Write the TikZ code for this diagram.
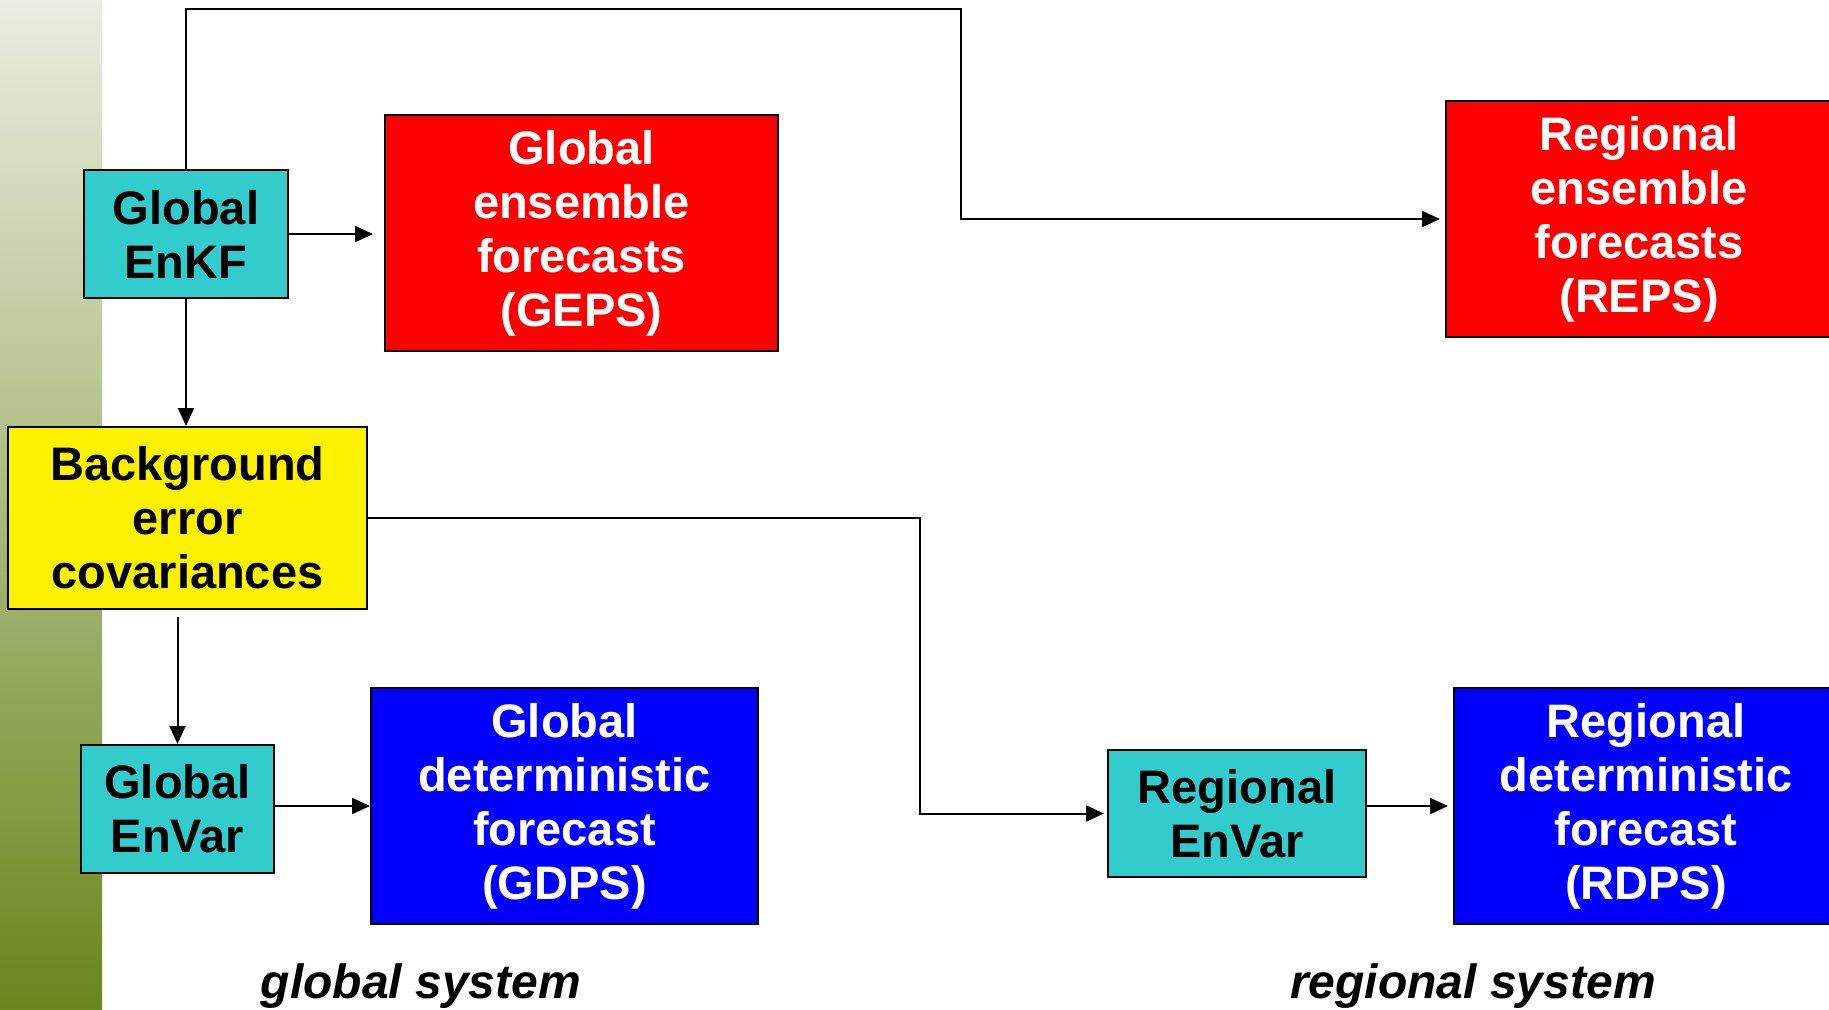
\documentclass[tikz,border=0pt]{standalone}
\usepackage{fontspec}
\setmainfont{Liberation Sans}
\usepackage{xcolor}
\usetikzlibrary{positioning,calc,arrows.meta}
\definecolor{boxcyan}{RGB}{51,204,204}
\definecolor{stripTop}{RGB}{234,237,224}
\definecolor{stripMid}{RGB}{172,188,124}
\definecolor{stripBot}{RGB}{106,134,28}
\tikzset{
    box/.style={draw=black, line width=1pt, inner sep=0pt, align=center,
        font=\bfseries\fontsize{23.5}{27}\selectfont},
    conn/.style={line width=1pt, -{Triangle[length=9pt,width=8pt]}},
    syslabel/.style={anchor=base, font=\bfseries\itshape\fontsize{24}{28}\selectfont},
}

\begin{document}
\begin{tikzpicture}[x=0.5pt,y=-0.5pt]
    \useasboundingbox (0,0) rectangle (1829,1009);
    \shade[top color=stripTop, middle color=stripMid, bottom color=stripBot] (0,0) rectangle (102,1009); % side strip

    \node[box, fill=boxcyan, minimum width=102pt, minimum height=64pt] (enkf) at (186,234) {Global\\EnKF};
    \node[box, fill=red, text=white, minimum width=196.5pt, minimum height=118pt] (geps) at (581.5,233) {Global\\ensemble\\forecasts\\(GEPS)};
    \node[box, fill=red, text=white, minimum width=193pt, minimum height=118pt] (reps) at (1639,219) {Regional\\ensemble\\forecasts\\(REPS)};
    \node[box, fill=yellow, minimum width=179.5pt, minimum height=91pt] (bec) at (187.5,518) {Background\\error\\covariances};
    \node[box, fill=boxcyan, minimum width=96.5pt, minimum height=64pt] (glbenvar) at (177.5,809) {Global\\EnVar};
    \node[box, fill=blue, text=white, minimum width=193.5pt, minimum height=118pt] (gdps) at (564.5,806) {Global\\deterministic\\forecast\\(GDPS)};
    \node[box, fill=boxcyan, minimum width=129pt, minimum height=63.5pt] (regenvar) at (1237,813.5) {Regional\\EnVar};
    \node[box, fill=blue, text=white, minimum width=192pt, minimum height=118pt] (rdps) at (1646,806) {Regional\\deterministic\\forecast\\(RDPS)};

    \node[syslabel] (glblabel) at (421,998) {global system};
    \node[syslabel] (reglabel) at (1473,998) {regional system};

    \coordinate (topbend) at (961,9);
    \coordinate (midbend) at (920,518);

    \draw[conn, shorten >=2.5pt] (enkf.north) |- (topbend) |- (reps.west);
    \draw[conn, shorten >=5.5pt] (enkf.east) -- (enkf.east -| geps.west);
    \draw[conn] (enkf.south) -- (enkf.south |- bec.north);
    \draw[conn, shorten >=1.5pt] (bec.east) -- (midbend) |- (regenvar.west);
    \draw[conn, shorten <=3.5pt] (glbenvar.north |- bec.south) -- (glbenvar.north);
    \draw[conn] (gdps.west -| glbenvar.east) -- (gdps.west);
    \draw[conn, shorten >=2.5pt] (rdps.west -| regenvar.east) -- (rdps.west);
\end{tikzpicture}
\end{document}
